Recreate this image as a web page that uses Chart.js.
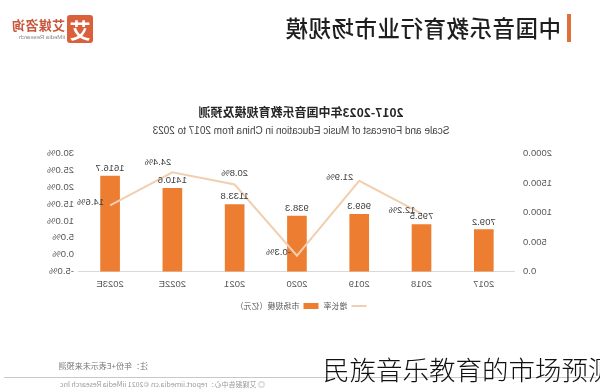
<!DOCTYPE html>
<html>
<head>
<meta charset="utf-8">
<script src="https://cdn.jsdelivr.net/npm/chart.js@4/dist/chart.umd.min.js"></script>
<style>
  html, body { margin:0; padding:0; background:#fff; }
  body { width:600px; height:390px; overflow:hidden; position:relative; font-family:"Noto Sans CJK SC","Noto Sans",sans-serif; }
  #mirror { position:absolute; left:0; top:0; width:600px; height:390px; transform:scaleX(-1); transform-origin:300px 195px; }
  #hbar { position:absolute; left:29px; top:14px; width:4px; height:28px; background:#E0703A; }
  #htitle { position:absolute; left:39px; top:12px; font-size:22.5px; line-height:30px; font-weight:500; color:#1e1e1e; letter-spacing:0.5px; }
  #logoBox { position:absolute; left:507px; top:15px; width:26px; height:28px; background:#D9603B; border-radius:3px; color:#fff; font-size:21px; font-weight:700; line-height:28px; text-align:center; }
  #logoCn { position:absolute; left:535px; top:17px; font-size:13px; font-weight:700; color:#C9573C; line-height:16px; letter-spacing:0.3px; }
  #logoEn { position:absolute; left:535px; top:33px; font-size:6px; color:#888; line-height:8px; font-family:"Liberation Sans",sans-serif; }
  #chartBox { position:absolute; left:0; top:97px; width:600px; height:223px; }
  #note { position:absolute; left:452px; top:360px; font-size:8px; color:#777; line-height:12px; }
  #fline { position:absolute; left:4px; top:377px; width:592px; height:1px; background:#c8c8c8; }
  #footer { position:absolute; left:335px; top:380px; font-size:7px; color:#999; line-height:9px; white-space:nowrap; }
  #caption { position:absolute; left:323px; top:349px; font-size:26.5px; line-height:40px; font-weight:300; color:#111; white-space:nowrap; font-family:"Noto Sans CJK SC",sans-serif; }
</style>
</head>
<body>
<div id="mirror">
  <div id="hbar"></div>
  <div id="htitle">中国音乐教育行业市场规模</div>
  <div id="logoBox">艾</div>
  <div id="logoCn">艾媒咨询</div>
  <div id="logoEn">iiMedia Research</div>
  <div id="chartBox"><canvas id="c"></canvas></div>
  <div id="note">注：年份+E表示未来预测</div>
  <div id="fline"></div>
  <div id="footer">◎ 艾媒报告中心：report.iimedia.cn ©2021 iiMedia Research Inc</div>
</div>
<div id="caption">民族音乐教育的市场预测</div>
<script>
const categories = ['2017','2018','2019','2020','2021','2022E','2023E'];
const marketSize = [709.2, 795.5, 969.3, 938.3, 1133.8, 1410.6, 1616.7];
const growthRate = [null, 12.2, 21.9, -0.3, 20.8, 24.4, 14.6];
const chartTitle = '2017-2023年中国音乐教育规模及预测';
const chartSubtitle = 'Scale and Forecast of Music Education in China from 2017 to 2023';
const seriesNames = ['市场规模（亿元）', '增长率'];

const labelPlugin = {
  id: 'valueLabels',
  afterDatasetsDraw(chart) {
    const ctx = chart.ctx;
    ctx.save();
    ctx.fillStyle = '#404040';
    ctx.font = '9.5px "Liberation Sans", sans-serif';
    ctx.textBaseline = 'bottom';
    ctx.textAlign = 'center';
    const barMeta = chart.getDatasetMeta(0);
    barMeta.data.forEach((el, i) => {
      ctx.fillText(marketSize[i].toFixed(1), el.x, el.y - 3);
    });
    const lineMeta = chart.getDatasetMeta(1);
    ctx.textBaseline = 'middle';
    lineMeta.data.forEach((el, i) => {
      const v = growthRate[i];
      if (v === null || el.skip) return;
      const txt = v.toFixed(1) + '%';
      if (i === 4) {
        ctx.textAlign = 'center';
        ctx.fillText(txt, el.x, el.y - 11);
      } else if (i === 5) {
        ctx.textAlign = 'left';
        ctx.fillText(txt, el.x + 1, el.y - 10);
      } else {
        ctx.textAlign = 'left';
        ctx.fillText(txt, el.x + 6, el.y - 3);
      }
    });
    ctx.restore();
  }
};

new Chart(document.getElementById('c'), {
  data: {
    labels: categories,
    datasets: [
      {
        type: 'bar',
        label: seriesNames[0],
        data: marketSize,
        backgroundColor: '#ED7D31',
        borderWidth: 0,
        barThickness: 19,
        yAxisID: 'y',
        pointStyle: 'rect',
        order: 2
      },
      {
        type: 'line',
        label: seriesNames[1],
        data: growthRate,
        borderColor: '#F1CFB0',
        backgroundColor: '#F1CFB0',
        borderWidth: 2,
        pointRadius: 0,
        pointStyle: 'line',
        tension: 0,
        spanGaps: false,
        yAxisID: 'y1',
        order: 1
      }
    ]
  },
  options: {
    responsive: true,
    maintainAspectRatio: false,
    animation: false,
    layout: { padding: { left: 40, right: 42, top: 0, bottom: 0 } },
    plugins: {
      title: {
        display: true,
        text: chartTitle,
        color: '#262626',
        font: { size: 12, weight: 'bold', family: '"Noto Sans CJK SC", sans-serif' },
        padding: { top: 8, bottom: 3 }
      },
      subtitle: {
        display: true,
        text: chartSubtitle,
        color: '#404040',
        font: { size: 10, family: '"Liberation Sans", sans-serif' },
        padding: { top: 3, bottom: 16 }
      },
      legend: {
        position: 'bottom',
        labels: {
          usePointStyle: true,
          pointStyleWidth: 15,
          boxHeight: 6,
          color: '#595959',
          font: { size: 8, family: '"Noto Sans CJK SC", sans-serif' },
          padding: 5
        }
      },
      tooltip: { enabled: false }
    },
    scales: {
      x: {
        grid: { display: false, drawTicks: false },
        border: { display: true, color: '#d9d9d9' },
        ticks: { color: '#595959', font: { size: 9.5, family: '"Liberation Sans", sans-serif' }, padding: 7 }
      },
      y: {
        position: 'left',
        min: 0, max: 2000,
        grid: { display: false, drawTicks: false },
        border: { display: false },
        ticks: { stepSize: 500, color: '#595959', padding: 8,
          font: { size: 9.5, family: '"Liberation Sans", sans-serif' },
          callback: v => Number(v).toFixed(1) }
      },
      y1: {
        position: 'right',
        min: -5, max: 30,
        grid: { display: false, drawTicks: false },
        border: { display: false },
        ticks: { stepSize: 5, color: '#595959', padding: 5,
          font: { size: 9.5, family: '"Liberation Sans", sans-serif' },
          callback: v => Number(v).toFixed(1) + '%' }
      }
    }
  },
  plugins: [labelPlugin]
});
</script>
</body>
</html>
